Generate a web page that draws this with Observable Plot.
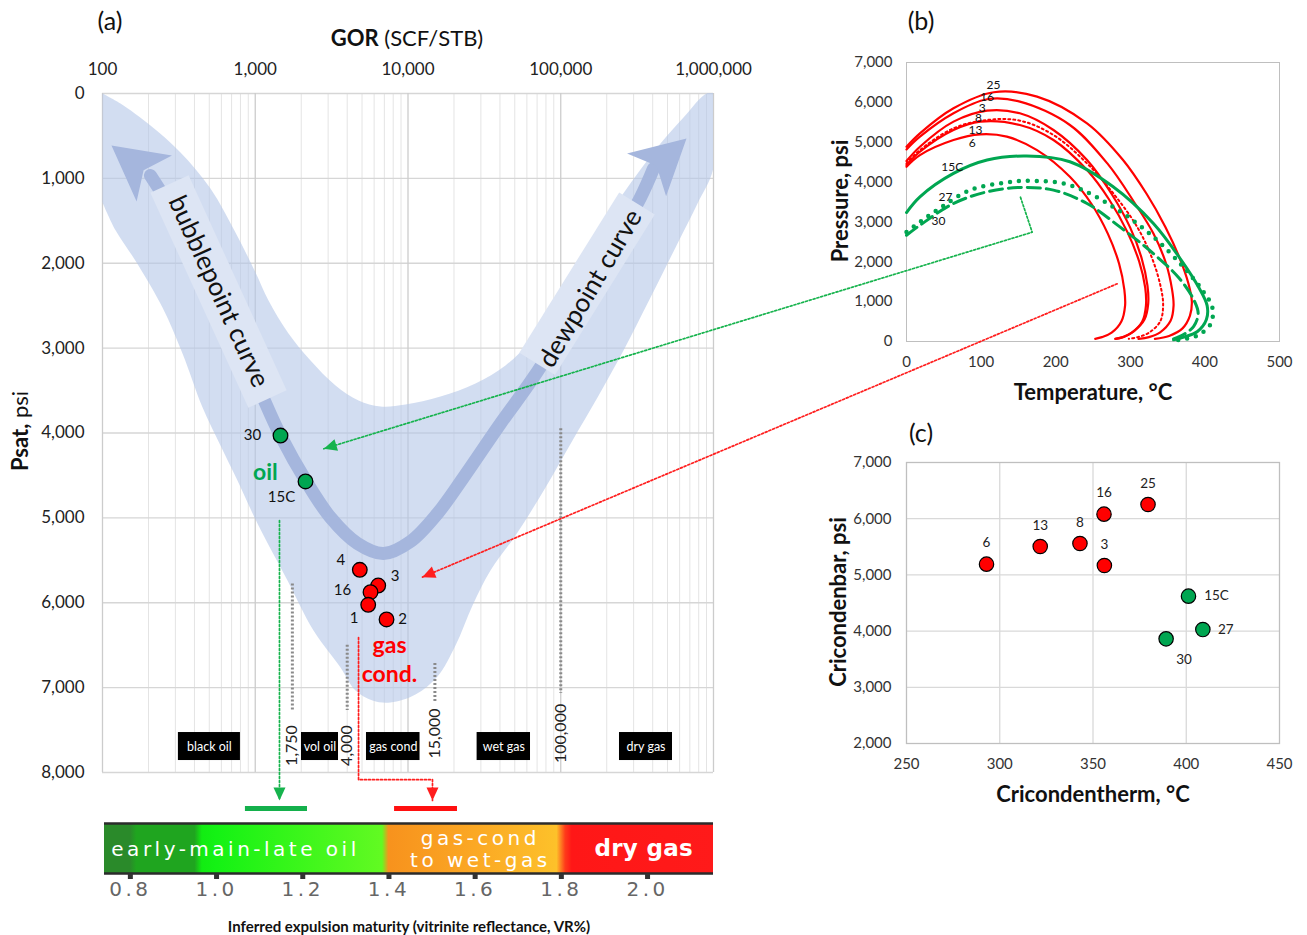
<!DOCTYPE html>
<html><head><meta charset="utf-8">
<script src="https://cdn.jsdelivr.net/npm/d3@7"></script>
<script src="https://cdn.jsdelivr.net/npm/@observablehq/plot@0.6"></script>
<style>
html,body{margin:0;padding:0;background:#fff;}
#root{position:relative;width:1307px;height:935px;overflow:hidden;font-family:Lato,"Open Sans",sans-serif;color:#111;}
.t{position:absolute;white-space:nowrap;line-height:1;}
</style></head>
<body>
<svg width="0" height="0" style="position:absolute;left:0;top:0"><defs><linearGradient id="vrGrad" x1="0" x2="1" y1="0" y2="0"></linearGradient></defs></svg>
<div id="root"></div>
<script>
// ================= DATA =================
// ---- Panel (a): Psat vs GOR ----
const gorTicks = [100, 1000, 10000, 100000, 1000000];
const psiTicks = [0, 1000, 2000, 3000, 4000, 5000, 6000, 7000, 8000];

const envInnerGor = [100,131,206,324,509,742,1004,1221,1651,2300,3353,4742,6607,9630,16320,27660,43480,63390,99600,163800,273500,449800,636200,899500];
const envInnerPsi = [0,118,377,695,1119,1638,2109,2439,2828,3146,3440,3617,3688,3664,3570,3417,3205,2910,2356,1697,1108,589,283,0];
const envOuterGor = [1000000,1000000,786000,581300,386900,257500,174000,119400,79500,50560,34670,26440,20460,15600,11190,7674,5856,4532,3615,2406,1626,1034,765,592,452,334,247,164,122,100];
const envOuterPsi = [0,872,1296,1767,2404,3028,3582,4088,4642,5208,5620,6032,6504,6869,7081,7175,7152,7034,6763,6327,5738,5066,4560,4147,3700,3063,2521,1968,1614,1284];

const trendGor = [206,301,438,639,864,1133,1463,2198,3109,4670,6913,10380,15600,23080,40330,66320,115800,196300,332800,404800];
const trendPsi = [966,1437,1968,2557,3087,3594,4030,4595,4996,5302,5420,5278,4948,4524,3888,3346,2651,1944,1225,884];
const trendTipGor = [114.5, 665700];
const trendTipPsi = [613, 530];

const curveLabels = ["bubblepoint curve", "dewpoint curve"];
const curveLabelGor = [575, 156600];
const curveLabelPsi = [2333, 2297];
const curveBoxGorA = [274.5, 70100];
const curveBoxPsiA = [1066, 3185];
const curveBoxGorB = [1203, 315600];
const curveBoxPsiB = [3599, 1296];

const sampleIds = ["30", "15C", "4", "3", "16", "1", "2"];
const sampleGor = [1463, 2133, 4836, 6383, 5683, 5489, 7235];
const samplePsi = [4030, 4571, 5612, 5797, 5876, 6024, 6197];
const sampleFluid = ["oil", "oil", "gas", "gas", "gas", "gas", "gas"];

const groupNames = ["oil", "gas\ncond."];
const groupGor = [1166, 7570];
const groupPsi = [4442, 6651];
const groupFluid = ["oil", "gas"];

const cutoffGor = [1750, 4000, 15000, 100000];
const cutoffLabels = ["1,750", "4,000", "15,000", "100,000"];
const cutoffTopPsi = [5780, 6500, 6715, 3950];
const cutoffEndPsi = [7270, 7270, 7175, 7070];
const cutoffLabelPsi = [7682, 7682, 7540, 7540];

const fluidNames = ["black oil", "vol oil", "gas cond", "wet gas", "dry gas"];
const fluidGorFrom = [314, 2008, 5348, 28340, 242400];
const fluidGorTo = [800, 3508, 11990, 63390, 539000];
const fluidPsiFrom = [7529, 7529, 7529, 7529, 7529];
const fluidPsiTo = [7859, 7859, 7859, 7859, 7859];

// ---- Panel (b): phase envelopes ----
const tempTicks = [0, 100, 200, 300, 400, 500];
const pressTicks = [0, 1000, 2000, 3000, 4000, 5000, 6000, 7000];
const env25T = [0,18,63,117,175,242,290,322,347,366,378,382.5,380,370,352,333];
const env25P = [4887,5223,5851,6254,6145,5474,4560,3700,2875,2100,1450,1000,650,330,140,67];
const env16T = [0,18,63,108,152,219,270,305,331,348,356,358,354,340,325,311];
const env16P = [4820,5139,5726,6078,6019,5432,4450,3500,2708,1950,1300,900,520,230,110,67];
const env3T = [0,18,63,108,152,197,242,275,300,315,323,324,319,305,292,280];
const env3P = [4527,4887,5516,5793,5726,5307,4552,3700,2850,2100,1400,950,550,260,120,67];
const env8T = [0,18,63,108,152,197,242,280,310,330,341,344,340,325,310,298];
const env8P = [4468,4803,5348,5558,5541,5181,4468,3650,2850,2050,1350,900,500,220,110,67];
const env13T = [0,18,63,99,152,197,242,272,296,312,320,321,316,302,290,280];
const env13P = [4426,4761,5306,5516,5432,5055,4300,3550,2750,2000,1350,900,500,220,110,67];
const env6T = [0,18,63,99,134.5,175,219,248,270,285,292,293,288,275,262,253];
const env6P = [4384,4677,5055,5197,5139,4803,4133,3450,2700,1950,1300,900,500,220,110,67];
const env15CT = [0,18,63,108,161,219,277,331,368,392,403,402,390,372,358];
const env15CP = [3236,3630,4217,4552,4653,4510,3881,2959,2050,1350,900,550,250,110,42];
const env27T = [0,18,40.7,85,130,170,219,277,331,372,398,410,408,392,375,358];
const env27P = [2750,3001,3294,3797,3982,4032,3923,3378,2624,1850,1250,850,450,170,70,25];
const env30T = [0,18,63,108,152,197,242,286,331,365,385,391,385,372,358];
const env30P = [2666,2917,3462,3756,3865,3798,3462,2875,2205,1600,1050,700,380,180,67];
const envIds = ["25", "16", "3", "8", "13", "6", "15C", "27", "30"];
const envLabelT = [116.6, 108, 101.5, 96.5, 92.5, 88, 61.3, 52.3, 43];
const envLabelP = [6423, 6129, 5846, 5595, 5294, 4975, 4366, 3620, 3011];

// ---- Panel (c): cricondenbar vs cricondentherm ----
const critTTicks = [250, 300, 350, 400, 450];
const critPTicks = [2000, 3000, 4000, 5000, 6000, 7000];
const critIds = ["6", "13", "8", "16", "3", "25", "15C", "27", "30"];
const cricondentherm = [292.9, 321.7, 343, 355.9, 356.1, 379.5, 401.2, 408.9, 389.2];
const cricondenbar = [5191, 5505, 5559, 6081, 5167, 6253, 4622, 4028, 3862];
const critFluid = ["gas", "gas", "gas", "gas", "gas", "gas", "oil", "oil", "oil"];

// ---- Maturity bar ----
const vrTicks = [0.8, 1.0, 1.2, 1.4, 1.6, 1.8, 2.0];
const vrMin = 0.74, vrMax = 2.153;
const vrStops = [0.74, 0.80, 0.815, 0.95, 0.967, 1.0, 1.385, 1.40, 1.60, 1.79, 1.81, 1.825, 2.153];
const vrColors = ["#2a8a2a", "#2a8a2a", "#1fa51f", "#1fa51f", "#12ec12", "#14f214", "#62fa22", "#f7921d", "#fba824", "#fdc12a", "#ff3a1a", "#ff1717", "#ff1a1a"];
const vrZones = ["early-main-late oil", "gas-cond\nto wet-gas", "dry gas"];
const vrZoneCenter = [1.044, 1.612, 1.991];
const expelledFrom = [1.067, 1.413];
const expelledTo = [1.211, 1.559];
const expelledFluid = ["oil", "gas"];

// ---- Connectors (panel b -> panel a ; panel a -> maturity bar) ----
const oilLinkT = [152.8, 168.5];
const oilLinkP = [3620, 2742];
const oilLinkGor = 2811, oilLinkPsi = 4186;
const gasLinkT = [282.4];
const gasLinkP = [1448];
const gasLinkGor = 12390, gasLinkPsi = 5699;
const oilDropPsi = 5031, oilDropVR = 1.146;
const gasDropGor = 4745, gasDropPsi = 6410, gasDropElbowPsi = 8085, gasDropVR = 1.501;

// ================= RENDER =================
const GREEN = "#00a651", RED = "#ff0000";
const fluidColor = f => f === "oil" ? GREEN : RED;
const FONT = "Lato, 'Open Sans', 'DejaVu Sans', sans-serif";
const root = document.getElementById("root");
function place(node, left, top) {
  node.style.position = "absolute"; node.style.left = left + "px"; node.style.top = top + "px";
  root.appendChild(node); return node;
}
function label(html, x, y, css, rot) {
  const d = document.createElement("div");
  d.className = "t"; d.innerHTML = html;
  d.style.left = x + "px"; d.style.top = y + "px";
  d.style.transform = "translate(-50%,-50%)" + (rot ? ` rotate(${rot}deg)` : "");
  Object.assign(d.style, css || {});
  root.appendChild(d);
}

// ---------- Panel (a) ----------
const minorGor = gorTicks.slice(0, -1).flatMap(t => [2,3,4,5,6,7,8,9].map(k => k * t));
const envelope = envInnerGor.map((g, i) => ({gor: g, psi: envInnerPsi[i]}))
  .concat(envOuterGor.map((g, i) => ({gor: g, psi: envOuterPsi[i]})));
const trend = trendGor.map((g, i) => ({gor: g, psi: trendPsi[i]}));
const curveRows = curveLabels.map((t, i) => ({text: t, gor: curveLabelGor[i], psi: curveLabelPsi[i],
  g1: curveBoxGorA[i], p1: curveBoxPsiA[i], g2: curveBoxGorB[i], p2: curveBoxPsiB[i]}));
const curveAngle = {"bubblepoint curve": 65.5, "dewpoint curve": -59.5};
const samples = sampleIds.map((id, i) => ({id, gor: sampleGor[i], psi: samplePsi[i], fluid: sampleFluid[i]}));
const sampleOffset = {"30": [-28, 0], "15C": [-24, 16], "4": [-19, -10], "3": [17, -9], "16": [-28, -2], "1": [-14, 13], "2": [16, 0]};
const groups = groupNames.map((n, i) => ({name: n, gor: groupGor[i], psi: groupPsi[i], fluid: groupFluid[i]}));
const cutoffs = cutoffGor.map((g, i) => ({gor: g, label: cutoffLabels[i], top: cutoffTopPsi[i], end: cutoffEndPsi[i], lp: cutoffLabelPsi[i]}));
const fluids = fluidNames.map((n, i) => ({name: n, g1: fluidGorFrom[i], g2: fluidGorTo[i], p1: fluidPsiFrom[i], p2: fluidPsiTo[i]}));

const plotA = Plot.plot({
  width: 730, height: 790,
  marginLeft: 102, marginRight: 17, marginTop: 93, marginBottom: 18,
  style: {fontFamily: FONT, fontSize: "17px", color: "#222", background: "none", overflow: "visible"},
  x: {type: "log", domain: [100, 1e6], axis: "top", ticks: gorTicks, tickFormat: d3.format(","), tickSize: 0, tickPadding: 19, label: null},
  y: {domain: [0, 8000], reverse: true, ticks: psiTicks, tickFormat: d3.format(","), tickSize: 0, tickPadding: 18, label: null},
  marks: [
    Plot.ruleX(minorGor, {stroke: "#e4e4e4", strokeWidth: 1}),
    Plot.ruleY(psiTicks, {stroke: "#d6d6d6", strokeWidth: 1.3}),
    Plot.ruleX(gorTicks, {stroke: "#cccccc", strokeWidth: 1.3}),
    Plot.line(envelope, {x: "gor", y: "psi", curve: "catmull-rom", fill: "#b4c7e7", fillOpacity: 0.6, stroke: "none", clip: true}),
    Plot.line(trend, {x: "gor", y: "psi", curve: "catmull-rom", stroke: "#a5b6dd", strokeWidth: 13}),
    Plot.link(curveRows, {x1: "g1", y1: "p1", x2: "g2", y2: "p2", stroke: "#dde5f4", strokeWidth: 42}),
    Plot.text(curveRows, {x: "gor", y: "psi", text: "text", rotate: d => curveAngle[d.text], fontSize: 26, fill: "#111"}),
    Plot.ruleX(cutoffs, {x: "gor", y1: "top", y2: "end", stroke: "#8a8a8a", strokeWidth: 3, strokeDasharray: "2,2"}),
    Plot.text(cutoffs, {x: "gor", y: "lp", text: "label", rotate: -90, fontSize: 16, fill: "#222"}),
    Plot.rect(fluids, {x1: "g1", x2: "g2", y1: "p1", y2: "p2", fill: "#000"}),
    Plot.text(fluids, {x: d => Math.sqrt(d.g1 * d.g2), y: d => (d.p1 + d.p2) / 2, text: "name", fill: "#fff", fontSize: 12.5}),
    Plot.text(groups, {x: "gor", y: "psi", text: "name", fill: d => fluidColor(d.fluid), fontSize: 23, fontWeight: "bold", lineHeight: 1.28}),
    Plot.dot(samples, {x: "gor", y: "psi", r: 7.3, fill: d => fluidColor(d.fluid), stroke: "#000", strokeWidth: 1.3}),
    ...samples.map(s => Plot.text([s], {x: "gor", y: "psi", text: "id", dx: sampleOffset[s.id][0], dy: sampleOffset[s.id][1], fontSize: 15, fill: "#111"}))
  ]
});
const posA = [0, 0];
place(plotA, posA[0], posA[1]);

// ---------- Panel (b) ----------
const envArrays = {"25": [env25T, env25P], "16": [env16T, env16P], "3": [env3T, env3P], "8": [env8T, env8P], "13": [env13T, env13P],
  "6": [env6T, env6P], "15C": [env15CT, env15CP], "27": [env27T, env27P], "30": [env30T, env30P]};
const envStyle = {
  "25": {stroke: RED, strokeWidth: 2.2}, "16": {stroke: RED, strokeWidth: 2.2}, "3": {stroke: RED, strokeWidth: 2.2},
  "8": {stroke: RED, strokeWidth: 2, strokeDasharray: "2,3"}, "13": {stroke: RED, strokeWidth: 2.2}, "6": {stroke: RED, strokeWidth: 2.2},
  "15C": {stroke: "#00a651", strokeWidth: 3},
  "27": {stroke: "#00a651", strokeWidth: 4.5, strokeDasharray: "0,9", strokeLinecap: "round"},
  "30": {stroke: "#00a651", strokeWidth: 3, strokeDasharray: "13,6"}
};
const envLabels = envIds.map((id, i) => ({id, t: envLabelT[i], p: envLabelP[i]}));
const plotB = Plot.plot({
  width: 480, height: 330,
  marginLeft: 86, marginRight: 21, marginTop: 22, marginBottom: 29,
  style: {fontFamily: FONT, fontSize: "15px", color: "#333", background: "none", overflow: "visible"},
  x: {domain: [0, 500], ticks: tempTicks, tickSize: 0, tickPadding: 15, label: null},
  y: {domain: [0, 7000], ticks: pressTicks, tickFormat: d3.format(","), tickSize: 0, tickPadding: 14, label: null},
  marks: [
    Plot.frame({stroke: "#bfbfbf"}),
    ...envIds.map(id => Plot.line(envArrays[id][0].map((t, i) => ({t, p: envArrays[id][1][i]})),
      {x: "t", y: "p", curve: "catmull-rom", ...envStyle[id]})),
    Plot.text(envLabels, {x: "t", y: "p", text: "id", fontSize: 12, fill: "#111"})
  ]
});
const posB = [820, 40];
place(plotB, posB[0], posB[1]);

// ---------- Panel (c) ----------
const crit = critIds.map((id, i) => ({id, t: cricondentherm[i], p: cricondenbar[i], fluid: critFluid[i]}));
const critOffset = {"6": [0, -21], "13": [0, -21], "8": [0, -21], "16": [0, -21], "3": [0, -21], "25": [0, -21], "15C": [28, 0], "27": [23, 0], "30": [18, 21]};
const plotC = Plot.plot({
  width: 480, height: 340,
  marginLeft: 86, marginRight: 21, marginTop: 22, marginBottom: 37,
  style: {fontFamily: FONT, fontSize: "15px", color: "#333", background: "none", overflow: "visible"},
  x: {domain: [250, 450], ticks: critTTicks, tickSize: 0, tickPadding: 15, label: null},
  y: {domain: [2000, 7000], ticks: critPTicks, tickFormat: d3.format(","), tickSize: 0, tickPadding: 15, label: null},
  marks: [
    Plot.ruleX(critTTicks.slice(1, -1), {stroke: "#d9d9d9", strokeWidth: 1.3}),
    Plot.ruleY(critPTicks.slice(1, -1), {stroke: "#d9d9d9", strokeWidth: 1.3}),
    Plot.frame({stroke: "#bfbfbf", strokeWidth: 1.3}),
    Plot.dot(crit, {x: "t", y: "p", r: 7.2, fill: d => fluidColor(d.fluid), stroke: "#000", strokeWidth: 1.2}),
    ...crit.map(c => Plot.text([c], {x: "t", y: "p", text: "id", dx: critOffset[c.id][0], dy: critOffset[c.id][1], fontSize: 13.5, fill: "#222"}))
  ]
});
const posC = [820, 440];
place(plotC, posC[0], posC[1]);

// ---------- Maturity bar ----------
const grad = document.getElementById("vrGrad");
vrStops.forEach((v, i) => {
  const s = document.createElementNS("http://www.w3.org/2000/svg", "stop");
  s.setAttribute("offset", (v - vrMin) / (vrMax - vrMin));
  s.setAttribute("stop-color", vrColors[i]);
  grad.appendChild(s);
});
const zones = vrZones.map((z, i) => ({z, vr: vrZoneCenter[i]}));
const expelled = expelledFluid.map((f, i) => ({f, a: expelledFrom[i], b: expelledTo[i]}));
const plotD = Plot.plot({
  width: 730, height: 100,
  marginLeft: 104, marginRight: 17, marginTop: 23, marginBottom: 27,
  style: {fontFamily: "'DejaVu Sans', Verdana, sans-serif", fontSize: "20px", color: "#666", background: "none", overflow: "visible", letterSpacing: "3.5px"},
  x: {domain: [vrMin, vrMax], ticks: vrTicks, tickFormat: d3.format(".1f"), tickSize: 0, tickPadding: 8, label: null},
  y: {domain: [0, 1], axis: null},
  marks: [
    Plot.rect([{a: vrMin, b: vrMax}], {x1: "a", x2: "b", y1: () => 0, y2: () => 1, fill: "url(#vrGrad)"}),
    Plot.ruleY([0, 1], {stroke: "#2b2b2b", strokeWidth: 2.5}),
    Plot.ruleX(vrTicks, {y1: () => -0.01, y2: () => -0.12, stroke: "#333", strokeWidth: 5}),
    Plot.text(zones.filter(d => d.z !== "dry gas"), {x: "vr", y: () => 0.5, text: "z", fill: "#fff", fontSize: 20, lineHeight: 1.1}),
    Plot.text(zones.filter(d => d.z === "dry gas"), {x: "vr", y: () => 0.5, text: "z", fill: "#fff", fontSize: 23, fontWeight: "bold"}),
    Plot.ruleY(expelled, {x1: "a", x2: "b", y: () => 1.3, stroke: d => d.f === "oil" ? "#14b04c" : "#ff1010", strokeWidth: 5})
  ]
});
d3.select(plotD).selectAll("text").filter(function () { return this.textContent === "dry gas"; }).style("letter-spacing", "0.3px");
const posD = [0, 800];
place(plotD, posD[0], posD[1]);

// ---------- Overlay: connectors and arrow heads ----------
const sA = {x: v => plotA.scale("x").apply(v) + posA[0], y: v => plotA.scale("y").apply(v) + posA[1]};
const sB = {x: v => plotB.scale("x").apply(v) + posB[0], y: v => plotB.scale("y").apply(v) + posB[1]};
const sD = {x: v => plotD.scale("x").apply(v) + posD[0], y: v => plotD.scale("y").apply(v) + posD[1]};
function head(tip, from, len, halfW, notch) {
  const dx = tip[0] - from[0], dy = tip[1] - from[1], d = Math.hypot(dx, dy);
  const ux = dx / d, uy = dy / d, nx = -uy, ny = ux;
  return [tip,
    [tip[0] - ux * len + nx * halfW, tip[1] - uy * len + ny * halfW],
    [tip[0] - ux * len * notch, tip[1] - uy * len * notch],
    [tip[0] - ux * len - nx * halfW, tip[1] - uy * len - ny * halfW]].map(([x, y]) => ({x, y}));
}
const pts = arr => arr.map(([x, y]) => ({x, y}));
const oilLink = [[sB.x(oilLinkT[0]), sB.y(oilLinkP[0])], [sB.x(oilLinkT[1]), sB.y(oilLinkP[1])], [sA.x(oilLinkGor), sA.y(oilLinkPsi)]];
const gasLink = [[sB.x(gasLinkT[0]), sB.y(gasLinkP[0])], [sA.x(gasLinkGor), sA.y(gasLinkPsi)]];
const oilDrop = [[sD.x(oilDropVR), sA.y(oilDropPsi)], [sD.x(oilDropVR), sD.y(1.46)]];
const gasDrop = [[sA.x(gasDropGor), sA.y(gasDropPsi)], [sA.x(gasDropGor), sA.y(gasDropElbowPsi)], [sD.x(gasDropVR), sA.y(gasDropElbowPsi)], [sD.x(gasDropVR), sD.y(1.46)]];
const tipL = [sA.x(trendTipGor[0]), sA.y(trendTipPsi[0])], notchL = [sA.x(trendGor[0]), sA.y(trendPsi[0])];
const tipR = [sA.x(trendTipGor[1]), sA.y(trendTipPsi[1])], notchR = [sA.x(trendGor[trendGor.length - 1]), sA.y(trendPsi[trendPsi.length - 1])];
const G2 = "#16b34d", R2 = "#ff1e1e";
const dotted = {strokeWidth: 1.7, strokeDasharray: "2,2"};
const last2 = a => [a[a.length - 1], a[a.length - 2]];
const overlay = Plot.plot({
  width: 1307, height: 935, margin: 0,
  x: {type: "identity", axis: null}, y: {type: "identity", axis: null},
  style: {background: "none", overflow: "visible", pointerEvents: "none"},
  marks: [
    Plot.line(head(tipL, notchL, 54, 29, 0.75), {x: "x", y: "y", fill: "#a5b6dd", stroke: "none"}),
    Plot.line(head(tipR, notchR, 54, 29, 0.75), {x: "x", y: "y", fill: "#a5b6dd", stroke: "none"}),
    Plot.line(pts(oilLink), {x: "x", y: "y", stroke: G2, ...dotted}),
    Plot.line(pts(gasLink), {x: "x", y: "y", stroke: R2, ...dotted}),
    Plot.line(pts(oilDrop), {x: "x", y: "y", stroke: G2, ...dotted}),
    Plot.line(pts(gasDrop), {x: "x", y: "y", stroke: R2, ...dotted}),
    Plot.line(head(...last2(oilLink), 13, 6, 1), {x: "x", y: "y", fill: G2, stroke: "none"}),
    Plot.line(head(...last2(gasLink), 13, 6, 1), {x: "x", y: "y", fill: R2, stroke: "none"}),
    Plot.line(head(...last2(oilDrop), 13, 6, 1), {x: "x", y: "y", fill: G2, stroke: "none"}),
    Plot.line(head(...last2(gasDrop), 13, 6, 1), {x: "x", y: "y", fill: R2, stroke: "none"})
  ]
});
place(overlay, 0, 0);

// ---------- Titles and axis names ----------
const T = {fontFamily: FONT, color: "#111"};
label("(a)", 110, 20, {...T, fontSize: "25px"});
label("<b>GOR</b> (SCF/STB)", 407, 38, {...T, fontSize: "22px"});
label("<b>Psat,</b> psi", 20, 431, {...T, fontSize: "22px"}, -90);
label("(b)", 921, 20, {...T, fontSize: "25px"});
label("<b>Pressure, psi</b>", 840, 201, {...T, fontSize: "22px"}, -90);
label("<b>Temperature, °C</b>", 1093, 392, {...T, fontSize: "22px"});
label("(c)", 921, 432, {...T, fontSize: "25px"});
label("<b>Cricondenbar, psi</b>", 838, 602, {...T, fontSize: "22px"}, -90);
label("<b>Cricondentherm, °C</b>", 1093, 794, {...T, fontSize: "22px"});
label("<b>Inferred expulsion maturity (vitrinite reflectance, VR%)</b>", 409, 926, {...T, fontSize: "15px"});
</script>
</body></html>
